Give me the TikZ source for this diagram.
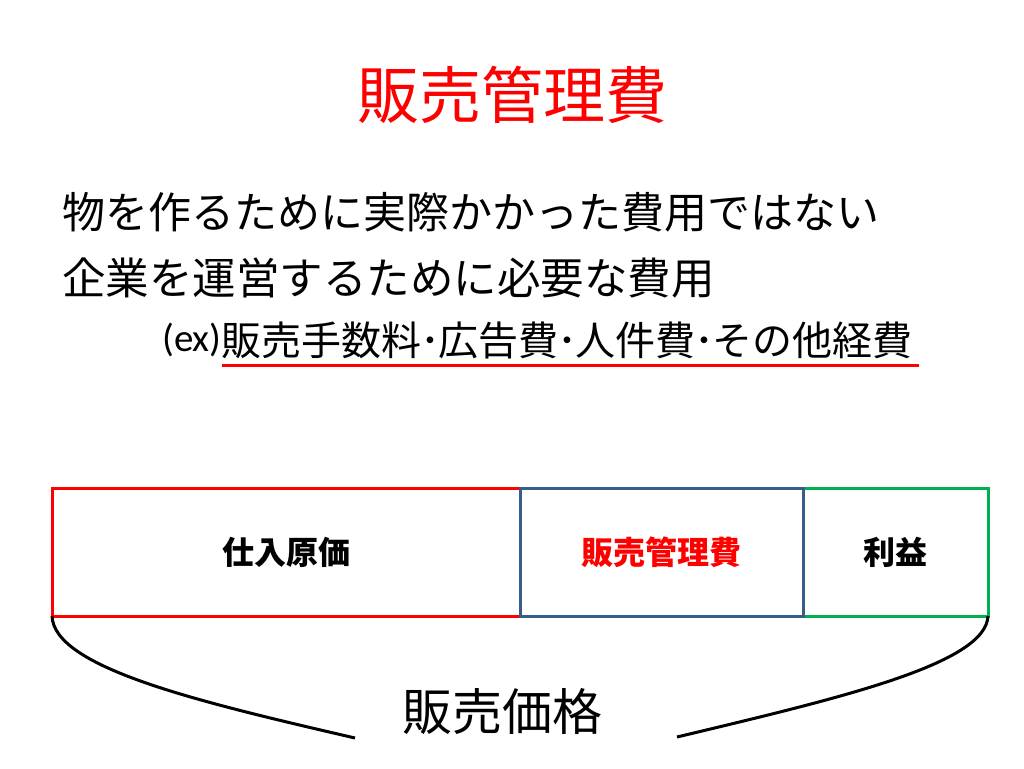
\documentclass[tikz,border=0pt]{standalone}
\usepackage{fontspec}
\setmainfont{Noto Sans CJK JP}
\newfontfamily\latinfont{Carlito}
\usepackage{xcolor}
\usepackage{tikz}
\usetikzlibrary{positioning}

\definecolor{boxred}{HTML}{FF0000}
\definecolor{boxblue}{HTML}{385D8A}
\definecolor{boxgreen}{HTML}{00B050}
\newcommand{\middot}{\makebox[17pt]{･}}

\begin{document}
\begin{tikzpicture}[
x=1pt, y=-1pt,
costbox/.style={
rectangle,
line width=3pt,
minimum height=128pt,
inner sep=0pt,
outer sep=0pt,
font=\fontsize{32}{36}\selectfont\bfseries
},
textline/.style={
anchor=west,
inner sep=0pt,
font=\fontsize{43}{48}\selectfont
},
brace/.style={
line width=3pt,
black
}
]
\useasboundingbox[fill=white] (0,0) rectangle (1024,768);

\node[text=boxred, font=\fontsize{62}{68}\selectfont] (title) at (512,95) {販売管理費};

\node[textline] (line1) at (62,212) {物を作るために実際かかった費用ではない};
\node[textline, font=\fontsize{43.5}{48}\selectfont] (line2) at (62,278) {企業を運営するために必要な費用};
\node[textline, font=\fontsize{39}{44}\latinfont] (ex) at (162,340) {(ex)};
\node[textline, font=\fontsize{40}{44}\selectfont, right=0pt of ex] (items) {販売手数料\middot 広告費\middot 人件費\middot その他経費};
\draw[boxred, line width=3pt] ([yshift=-7pt]items.south west) -- ([xshift=6pt,yshift=-7pt]items.south east);

% price breakdown
\node[costbox, draw=boxred, minimum width=468pt, anchor=north west] (shiire) at (52,488) {仕入原価};
\node[costbox, draw=boxgreen, minimum width=185pt, anchor=north east] (rieki) at (988,488) {利益};
\node[costbox, draw=boxblue, text=boxred, minimum width=283pt, right=0pt of shiire] (hankan) {販売管理費};

\node[font=\fontsize{50}{56}\selectfont] (price) at (502,712) {販売価格};
\coordinate (braceL) at (355,738);
\coordinate (braceR) at (677,737);

\draw[brace] (shiire.south west) .. controls (54,668) and (200,702) .. (braceL);
\draw[brace] (rieki.south east) .. controls (986,664) and (840,698) .. (braceR);

\end{tikzpicture}
\end{document}
